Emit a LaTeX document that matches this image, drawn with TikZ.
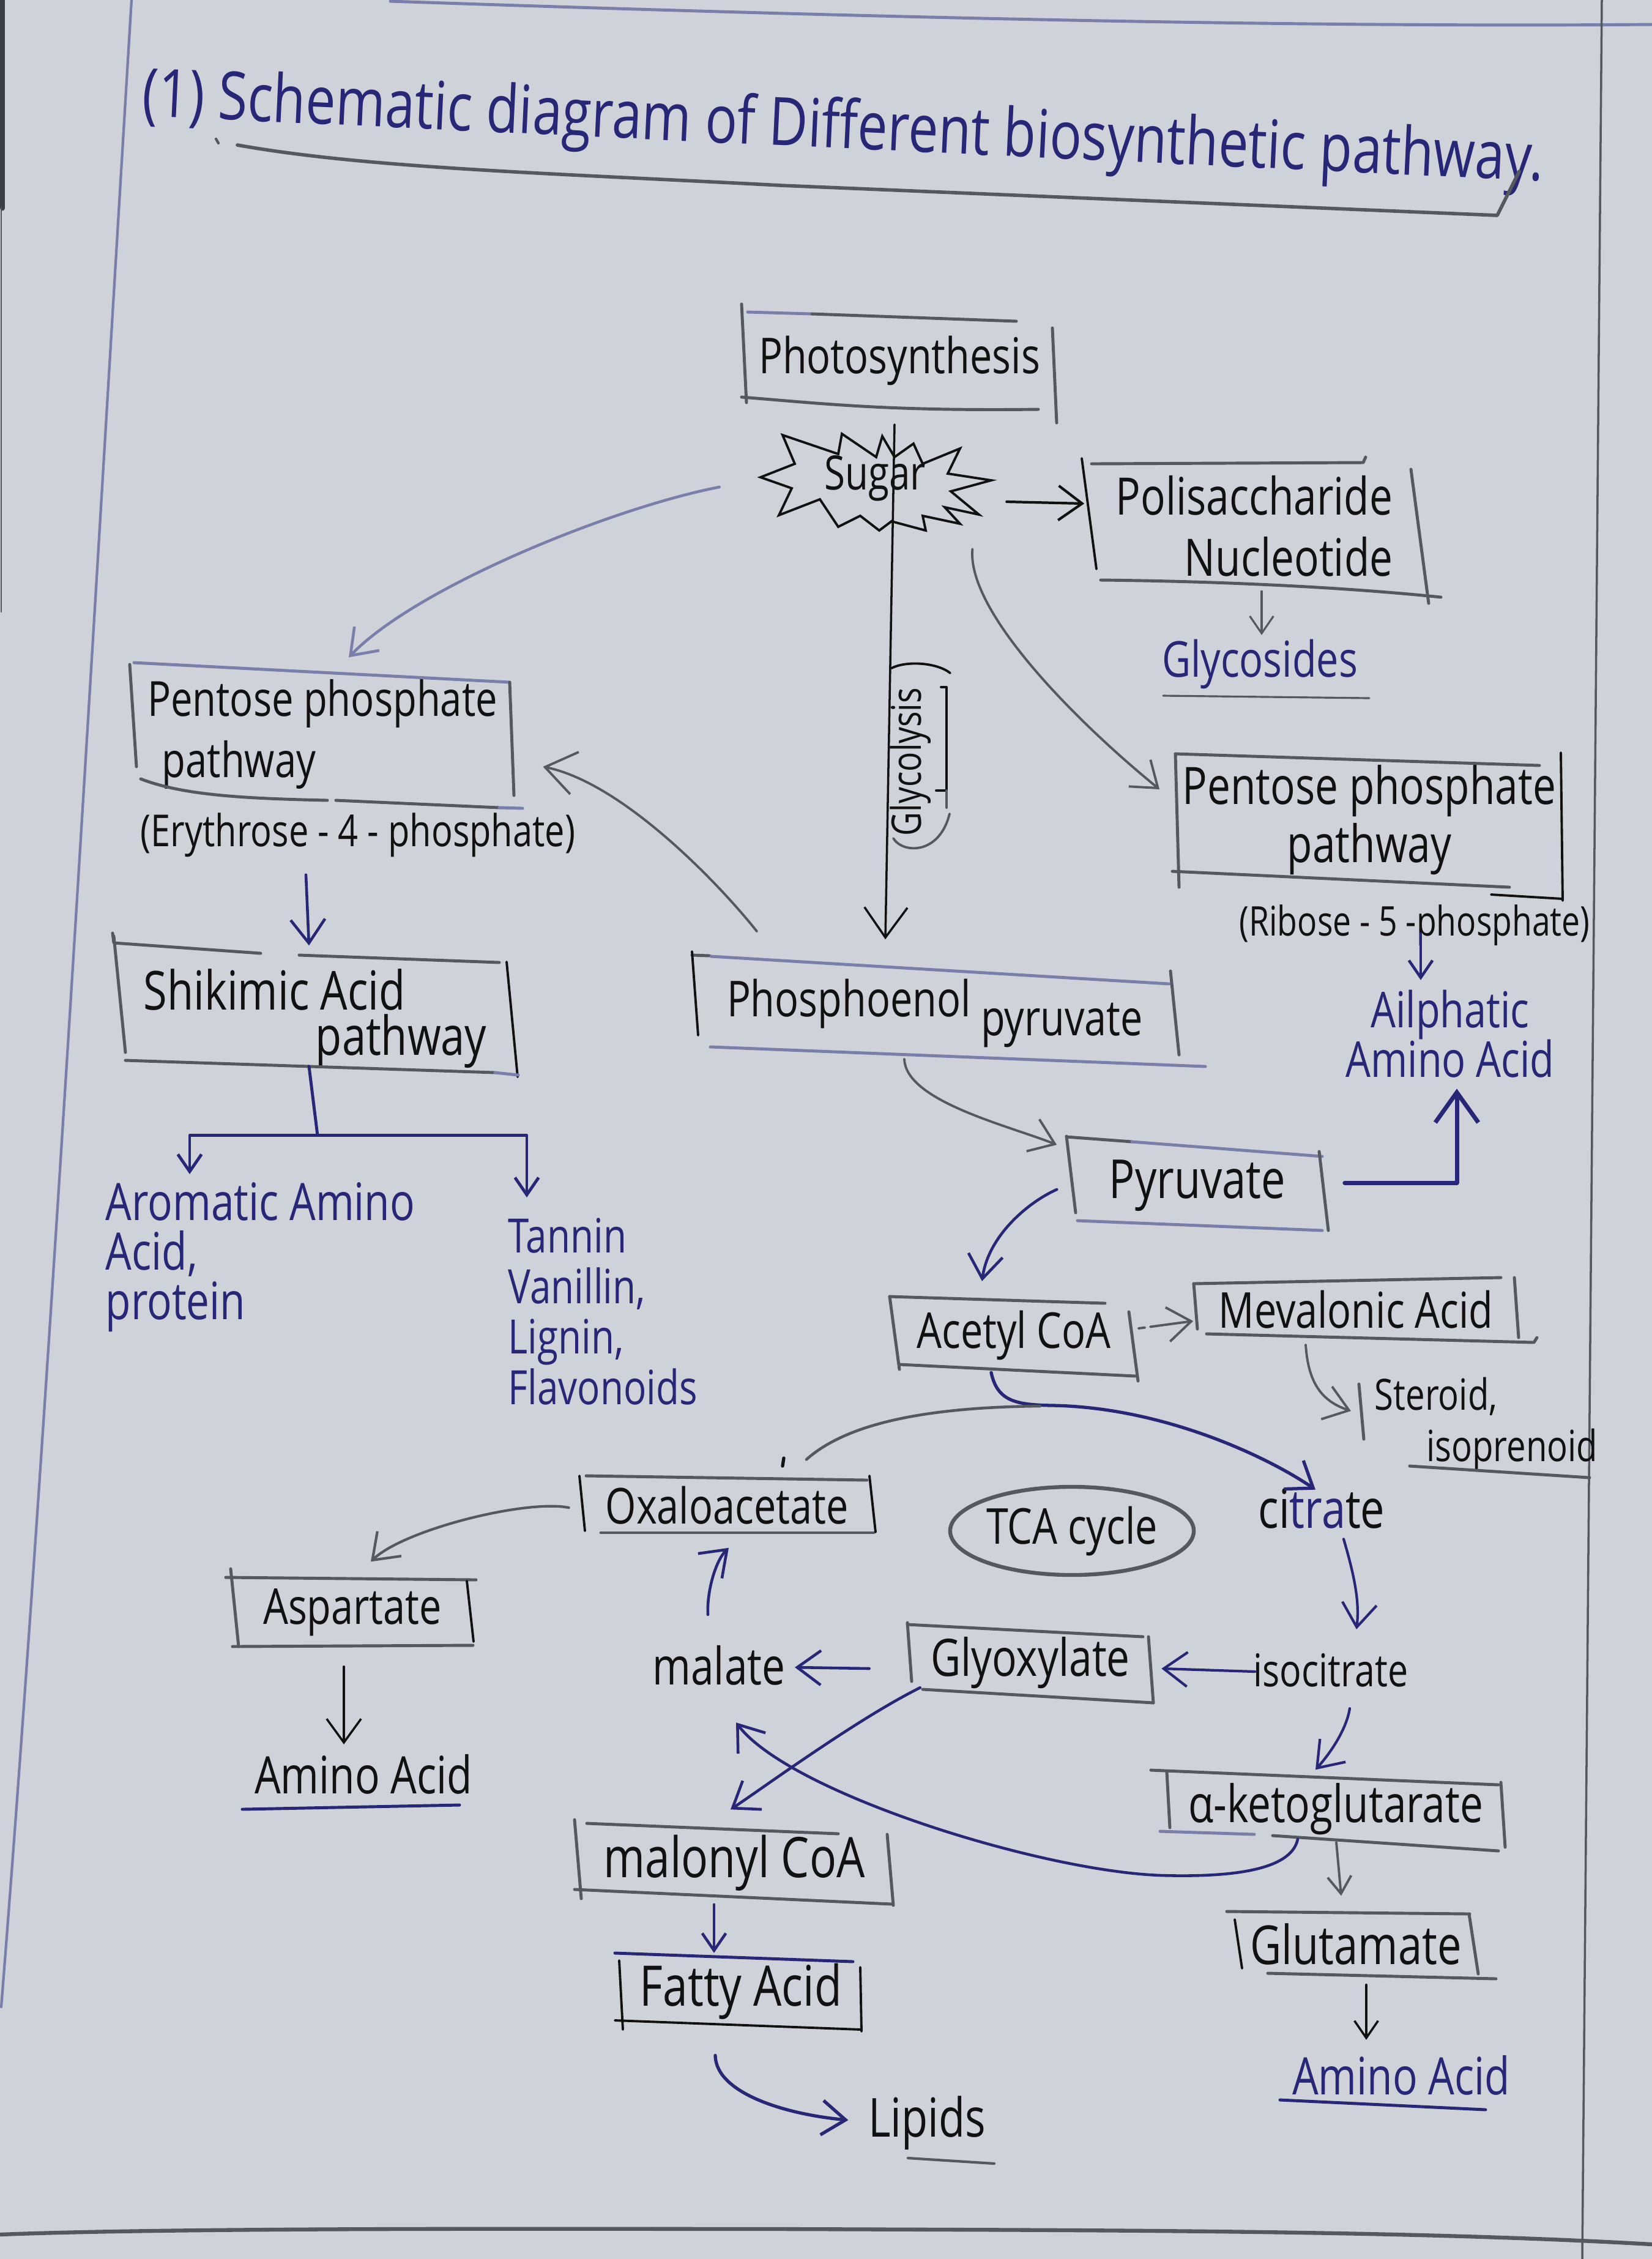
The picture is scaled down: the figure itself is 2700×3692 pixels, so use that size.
\documentclass[tikz,border=0pt]{standalone}
\usepackage{fontspec}
\setmainfont{Open Sans}[FakeStretch=0.8]
\usetikzlibrary{arrows.meta,calc,shapes.geometric}
\definecolor{bgc}{RGB}{207,210,216}
\definecolor{navy}{RGB}{40,38,118}
\definecolor{ink}{RGB}{17,17,17}
\definecolor{gry}{RGB}{85,88,94}
\definecolor{peri}{RGB}{122,126,170}
\begin{document}
\begin{tikzpicture}[x=0.01cm,y=-0.01cm, line cap=round, line join=round,
  fs/.style={font=\fontsize{#1pt}{#1pt}\selectfont},
  bx/.style={rectangle, inner sep=0pt, text=ink},
  tx/.style={inner sep=0pt},
  gl/.style={gry, line width=1.4pt},
  bl/.style={ink, line width=1.1pt},
  pl/.style={peri, line width=1.4pt},
  nl/.style={navy, line width=1.4pt},
  arr/.style={-{Straight Barb[length=11pt,width=16pt]}},
  arrL/.style={-{Straight Barb[length=14pt,width=20pt]}},
  arrs/.style={-{Straight Barb[length=8pt,width=11pt]}}]
\fill[bgc] (0,0) rectangle (2700,3692);
\useasboundingbox (0,0) rectangle (2700,3692);
% page frame
\draw[peri, line width=1.4pt] (638,2) .. controls (1400,28) and (2100,45) .. (2700,40);
\draw[peri, line width=1.2pt] (215,0) .. controls (160,900) and (80,2300) .. (2,3280);
\draw[gry!70!black, line width=2.5pt] (4,0) -- (4,340);
\draw[gry, line width=0.8pt] (2,340) -- (2,1000);
\draw[gry, line width=1pt] (2618,0) -- (2586,3692);
\draw[gry, line width=1.8pt] (0,3652) .. controls (300,3640) and (1000,3643) .. (1276,3643) .. controls (1800,3645) and (2300,3645) .. (2700,3668);
% title
\node[tx, fs=31, text=navy, rotate=-2.67] (title) at (1378,214) {(1) Schematic diagram of Different biosynthetic pathway.};
\draw[gry, line width=1.6pt] (388,237) .. controls (600,275) and (900,283) .. (1276,303) -- (2447,352) -- (2483,280);
\draw[gry, line width=1.2pt] (353,227) -- (357,234);
% nodes
\node[bx, fs=23, minimum width=5.07cm, minimum height=1.43cm] (photo) at (1470,589) {Photosynthesis};
\node[tx, fs=22, text=ink, minimum width=3.77cm, minimum height=1.75cm] (sugar) at (1430,782) {Sugar};
\node[bx, fs=24, align=right, minimum width=5.40cm, minimum height=2.05cm] (poly) at (2050,860) {Polisaccharide\\[4.5pt]Nucleotide};
\node[tx, fs=23, text=navy] (glyco) at (2059,1085) {Glycosides};
\node[bx, fs=24, align=center, minimum width=6.28cm, minimum height=1.99cm] (ppR) at (2238,1340) {Pentose phosphate\\[3pt]pathway};
\node[tx, fs=19, text=ink] (ribose) at (2312,1512) {(Ribose - 5 -phosphate)};
\node[tx, fs=23, text=navy, align=center] (ailph) at (2370,1690) {Ailphatic\\Amino Acid};
\node[bx, fs=23, minimum width=7.84cm, minimum height=1.42cm] (pep) at (1528,1656) {Phosphoenol \raisebox{-9pt}{pyruvate}};
\node[bx, fs=25, minimum width=4.14cm, minimum height=1.29cm] (pyr) at (1957,1938) {Pyruvate};
\node[bx, fs=23, minimum width=3.90cm, minimum height=1.15cm] (acetyl) at (1657,2182) {Acetyl CoA};
\node[bx, fs=23, minimum width=5.24cm, minimum height=0.94cm] (meval) at (2216,2140) {Mevalonic Acid};
\node[tx, text=ink, font=\fontsize{20pt}{24pt}\selectfont, align=left, anchor=north west] (steroid) at (2246,2250) {Steroid,\\\hspace*{1.2em}isoprenoid};
\node[bx, fs=23, minimum width=4.75cm, minimum height=0.90cm] (oxalo) at (1188,2460) {Oxaloacetate};
\node[draw=gry, line width=1.8pt, ellipse, inner sep=0pt, fs=23, text=ink, minimum width=3.98cm, minimum height=1.44cm] (tca) at (1752,2502) {TCA cycle};
\node[tx, fs=25, text=ink] (citrate) at (2160,2466) {ci\textcolor{navy}{tra}te};
\node[bx, fs=23, minimum width=3.85cm, minimum height=1.10cm] (aspart) at (576,2635) {Aspartate};
\node[tx, fs=24, text=ink] (aa1) at (594,2900) {Amino Acid};
\node[tx, fs=24, text=ink] (malate) at (1175,2722) {malate};
\node[bx, fs=24, minimum width=3.95cm, minimum height=1.07cm] (glyox) at (1684,2718) {Glyoxylate};
\node[tx, fs=21, text=ink] (isocit) at (2175,2730) {isocitrate};
\node[bx, fs=24, minimum width=5.47cm, minimum height=1.04cm] (akg) at (2183,2957) {α-ketoglutarate};
\node[bx, fs=26, minimum width=5.10cm, minimum height=1.10cm] (malonyl) at (1200,3045) {malonyl CoA};
\node[bx, fs=26, minimum width=3.92cm, minimum height=1.11cm] (fatty) at (1211,3255) {Fatty Acid};
\node[tx, fs=25, text=ink] (lipids) at (1515,3470) {Lipids};
\node[bx, fs=25, minimum width=3.84cm, minimum height=1.02cm] (glut) at (2216,3177) {Glutamate};
\node[tx, fs=24, text=navy] (aa3) at (2290,3392) {Amino Acid};
\node[bx, fs=22.5, align=left, minimum width=6.19cm, minimum height=2.00cm] (ppL) at (527,1200) {Pentose phosphate\\[6pt]\hspace*{0.3em}pathway};
\node[tx, fs=20.5, text=ink] (eryth) at (585,1365) {(Erythrose - 4 - phosphate)};
\node[bx, fs=25, align=left, minimum width=6.41cm, minimum height=2.00cm] (shik) at (515,1665) {Shikimic Acid\\[-4pt]\hspace*{3.2em}pathway};
\node[tx, text=navy, font=\fontsize{24pt}{23pt}\selectfont, align=left, anchor=north west] (arom) at (172,1932) {Aromatic Amino\\Acid,\\protein};
\node[tx, text=navy, font=\fontsize{22pt}{23.5pt}\selectfont, align=left, anchor=north west] (tann) at (830,1990) {Tannin\\Vanillin,\\Lignin,\\Flavonoids};
\node[tx, fs=19, text=ink, rotate=90] (glyc) at (1488,1245) {Glycolysis};
% starburst around Sugar
\draw[ink, line width=1.1pt, line join=miter] (1243,780) -- (1299,758) -- (1279,711) -- (1370,742) -- (1376,709) -- (1432,747) -- (1442,713) -- (1462,747) -- (1493,725) -- (1508,758) -- (1569,733) -- (1549,774) -- (1620,785) -- (1554,803) -- (1600,841) -- (1544,829) -- (1569,856) -- (1508,843) -- (1513,867) -- (1457,852) -- (1437,867) -- (1406,843) -- (1370,861) -- (1340,816) -- (1273,842) -- (1294,798) -- cycle;
% hand-drawn box edges
% photosynthesis
\draw[pl] (1222,510) -- (1327,513);
\draw[gl] (1327,513) -- (1661,525);
\draw[gl] (1212,497) -- (1220,658);
\draw[gl] (1212,649) .. controls (1350,660) and (1450,672) .. (1697,669);
\draw[gl] (1720,536) -- (1727,691);
% polysaccharide
\draw[bl] (1768,749) -- (1792,930);
\draw[gl] (1784,758) -- (2228,756) -- (2232,747);
\draw[gl] (2306,767) -- (2335,986);
\draw[gl] (1799,948) .. controls (2000,950) and (2200,960) .. (2355,976);
\draw[gry, line width=0.9pt] (1901,1137) -- (2238,1141);
% pentose right
\draw[gl] (1921,1232) -- (2516,1251);
\draw[gl] (1921,1232) -- (1927,1450);
\draw[gl] (1916,1424) -- (2467,1450);
\draw[bl] (2551,1230) -- (2554,1472);
\draw[bl] (2437,1462) -- (2554,1469);
% PEP
\draw[gl] (1131,1561) -- (1160,1562);
\draw[pl] (1162,1563) -- (1911,1608);
\draw[bl] (1131,1555) -- (1141,1692);
\draw[gl] (1913,1587) -- (1927,1724);
\draw[pl] (1161,1711) -- (1970,1743);
% pyruvate
\draw[gl] (1743,1858) -- (1850,1866);
\draw[pl] (1850,1866) -- (2161,1890);
\draw[gl] (1743,1857) -- (1758,1982);
\draw[gl] (2156,1882) -- (2171,2011);
\draw[pl] (1761,1995) -- (2161,2011);
% acetyl
\draw[gl] (1454,2119) -- (1806,2130);
\draw[gl] (1454,2119) -- (1470,2238);
\draw[gl] (1470,2230) -- (1856,2249);
\draw[gl] (1845,2144) -- (1860,2257);
% mevalonic
\draw[gl] (1951,2098) -- (2453,2088);
\draw[gl] (1951,2098) -- (1957,2172);
\draw[gl] (2475,2088) -- (2482,2186);
\draw[gl] (1972,2180) -- (2507,2194) -- (2512,2186);
\draw[gl] (2221,2262) -- (2229,2352);
\draw[gl] (2304,2396) -- (2598,2415);
% oxaloacetate
\draw[gl] (958,2412) -- (1417,2419);
\draw[bl] (947,2412) -- (956,2502);
\draw[gl] (982,2505) -- (1428,2505);
\draw[bl] (1421,2412) -- (1431,2504);
\draw[ink, line width=1.5pt] (1281,2383) -- (1279,2396);
% aspartate
\draw[gl] (369,2578) -- (778,2582);
\draw[gl] (377,2564) -- (390,2691);
\draw[bl] (763,2584) -- (774,2683);
\draw[gl] (380,2691) -- (773,2689);
\draw[navy, line width=1.4pt] (396,2957) -- (751,2950);
% glyoxylate
\draw[gl] (1483,2655) -- (1868,2675);
\draw[gl] (1483,2652) -- (1490,2748);
\draw[gl] (1508,2761) -- (1885,2783);
\draw[gl] (1877,2675) -- (1885,2783);
% alpha-ketoglutarate
\draw[gl] (1881,2893) -- (2449,2917);
\draw[gl] (1907,2896) -- (1912,2987);
\draw[pl] (1896,2993) -- (2050,2998);
\draw[gl] (2080,3000) -- (2449,3025);
\draw[gl] (2453,2913) -- (2460,3019);
% glutamate
\draw[gl] (2005,3124) -- (2402,3128);
\draw[bl] (2018,3137) -- (2030,3217);
\draw[gl] (2401,3128) -- (2416,3226);
\draw[gl] (2072,3225) -- (2445,3234);
\draw[navy, line width=1.4pt] (2092,3432) -- (2428,3448);
% malonyl
\draw[gl] (959,2980) -- (1370,2997);
\draw[gl] (939,2974) -- (950,3103);
\draw[gl] (939,3088) -- (1458,3112);
\draw[gl] (1450,2998) -- (1460,3114);
% fatty acid
\draw[nl] (1005,3192) -- (1394,3206);
\draw[bl] (1012,3204) -- (1018,3317);
\draw[bl] (1005,3302) -- (1407,3317);
\draw[bl] (1406,3215) -- (1408,3320);
\draw[gry, line width=1.2pt] (1484,3527) -- (1625,3536);
% pentose left
\draw[pl] (219,1083) -- (833,1115);
\draw[gl] (212,1086) -- (223,1253);
\draw[gl] (833,1115) -- (840,1300);
\draw[gl] (230,1273) .. controls (300,1300) and (400,1305) .. (535,1308);
\draw[gl] (549,1308) -- (816,1320);
\draw[pl] (816,1320) -- (854,1321);
% shikimic
\draw[gl] (184,1525) -- (186,1541) -- (426,1558);
\draw[gl] (489,1561) -- (816,1573);
\draw[gl] (186,1530) -- (205,1720);
\draw[bl] (828,1572) -- (846,1760);
\draw[gl] (205,1733) -- (809,1753);
\draw[pl] (809,1753) -- (847,1757);
% glycolysis enclosure
\draw[bl] (1457,1092) .. controls (1480,1080) and (1530,1082) .. (1553,1100);
\draw[gry, line width=1.1pt] (1460,1370) .. controls (1475,1395) and (1535,1398) .. (1552,1330);
\draw[bl] (1538,1123) -- (1547,1123) -- (1547,1292) -- (1530,1292);
\draw[gry, line width=1.1pt] (1547,1292) -- (1547,1320);
% connectors
\draw[ink, line width=1pt, arrL] ($(sugar.north)+(32,0)$) -- ($(pep.north)+(-81,-49)$);
\draw[ink, line width=1.2pt, arr] ($(sugar.east)+(26,38)$) -- ($(poly.west)+(-7,-37)$);
\draw[gry, line width=0.9pt, arrs] ($(poly.south)+(12,3)$) -- ($(glyco.north)+(3,-6)$);
\draw[peri, line width=1.3pt, arr] ($(sugar.west)+(-65,14)$) .. controls (1000,830) and (680,960) .. ($(ppL.north)+(43,-25)$);
\draw[gry, line width=1.1pt, arr] ($(sugar.south east)+(-30,27)$) .. controls (1580,1000) and (1760,1180) .. ($(ppR.west)+(-28,-50)$);
\draw[navy, line width=1.3pt, arrs] ($(ribose.center)+(10,14)$) -- ($(ailph.north)+(-48,-16)$);
\draw[navy, line width=2pt, arrL] ($(pyr.east)+(33,-5)$) -| ($(ailph.south)+(11,17)$);
\draw[gry, line width=1.1pt, arr] ($(pep.south)+(-50,3)$) .. controls (1480,1800) and (1650,1840) .. ($(pyr.west)+(-22,-67)$);
\draw[gry, line width=1.1pt, arrL] ($(pep.north west)+(102,-62)$) .. controls (1180,1450) and (1020,1280) .. ($(ppL.east)+(50,53)$);
\draw[navy, line width=1.3pt, arr] ($(pyr.west)+(-22,6)$) .. controls (1680,1965) and (1615,2020) .. ($(acetyl.north)+(-52,-30)$);
\draw[gry, line width=1.1pt, dash pattern=on 3pt off 2.5pt on 40pt, arr] ($(acetyl.east)+(8,-11)$) -- ($(meval.west)+(-3,19)$);
\draw[gry, line width=1.1pt, arr] ($(meval.south)+(-82,10)$) .. controls (2138,2260) and (2160,2290) .. ($(steroid.north west)+(-38,56)$);
\draw[navy, line width=1.5pt, arr] ($(acetyl.south)+(-37,3)$) .. controls (1630,2290) and (1660,2296) .. (1720,2297) .. controls (1900,2300) and (2070,2380) .. ($(citrate.north)+(-10,2)$);
\coordinate (merge) at (1700,2298);
\draw[gry, line width=1.3pt] ($(oxalo.north)+(130,-29)$) .. controls (1380,2330) and (1500,2300) .. (merge);
\draw[navy, line width=1.2pt, arr] ($(citrate.south)+(36,16)$) .. controls (2215,2580) and (2222,2620) .. ($(isocit.north)+(42,-39)$);
\draw[navy, line width=1.2pt, arr] ($(isocit.west)+(3,2)$) -- ($(glyox.east)+(16,9)$);
\draw[navy, line width=1.2pt, arr] ($(isocit.south)+(31,34)$) .. controls (2200,2830) and (2170,2870) .. ($(akg.north)+(-33,-12)$);
\draw[navy, line width=1.3pt, arr] ($(glyox.west)+(-65,9)$) -- ($(malate.east)+(15,3)$);
\draw[navy, line width=1.3pt, arr] ($(malate.north)+(-18,-50)$) .. controls (1155,2600) and (1170,2550) .. ($(oxalo.south)+(3,24)$);
\draw[gry, line width=1.2pt, arr] ($(oxalo.west)+(-20,4)$) .. controls (860,2450) and (660,2500) .. ($(aspart.north)+(30,-27)$);
\draw[ink, line width=1pt, arr] ($(aspart.south)+(-14,33)$) -- ($(aa1.north)+(-32,-16)$);
\draw[navy, line width=1.3pt, arr] ($(glyox.south west)+(18,-14)$) .. controls (1400,2810) and (1250,2920) .. ($(malonyl.north)+(-6,-32)$);
\draw[navy, line width=1.3pt, arr] ($(akg.south)+(-62,-4)$) .. controls (2110,3060) and (2000,3068) .. (1897,3065) .. controls (1700,3058) and (1290,2930) .. ($(malate.south)+(28,60)$);
\draw[navy, line width=1.3pt, arrs] ($(malonyl.south)+(-33,12)$) -- ($(fatty.north)+(-44,-7)$);
\draw[navy, line width=1.5pt, arr] ($(fatty.south)+(-42,48)$) .. controls (1170,3420) and (1280,3455) .. ($(lipids.west)+(-32,-5)$);
\draw[gry, line width=1.1pt, arrs] ($(akg.south)+(1,1)$) -- ($(glut.north)+(-24,-27)$);
\draw[ink, line width=1pt, arrs] ($(glut.south)+(17,15)$) -- ($(aa3.north)+(-57,-25)$);
\draw[navy, line width=1.3pt, arr] ($(eryth.south)+(-85,28)$) -- ($(shik.north)+(-10,-19)$);
\coordinate (fork) at ($(shik.south)+(4,90)$);
\draw[navy, line width=1.4pt] ($(shik.south)+(-10,-23)$) -- (fork);
\draw[navy, line width=1.4pt, arrs] (fork) -| ($(arom.north west)+(138,-13)$);
\draw[navy, line width=1.4pt, arrs] (fork) -| ($(tann.north west)+(31,-33)$);
\end{tikzpicture}
\end{document}
